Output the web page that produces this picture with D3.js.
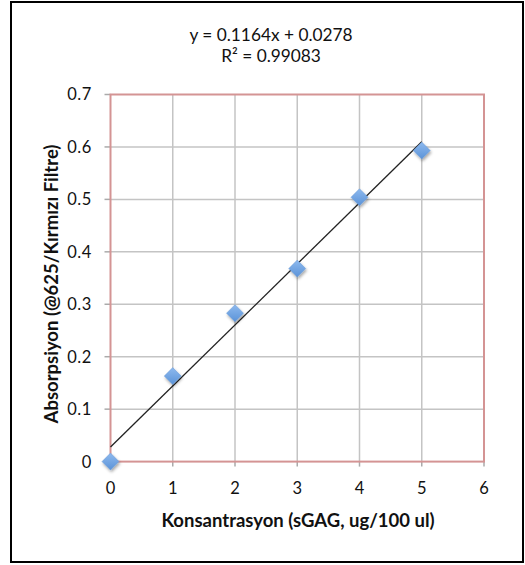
<!DOCTYPE html>
<html><head><meta charset="utf-8">
<script src="https://cdn.jsdelivr.net/npm/d3@7/dist/d3.min.js"></script>
<style>body{margin:0;background:#fff}svg{display:block}</style>
</head><body>
<script>
const xValues = [0, 1, 2, 3, 4, 5];
const yValues = [0, 0.163, 0.283, 0.368, 0.504, 0.593];
const xTicks = [0, 1, 2, 3, 4, 5, 6];
const yTicks = [0, 0.1, 0.2, 0.3, 0.4, 0.5, 0.6, 0.7];
const trendCoef = [0.1164, 0.0278];
const trendRange = [0, 5];
const equationLines = ["y = 0.1164x + 0.0278", "R² = 0.99083"];
const xTitle = "Konsantrasyon (sGAG, ug/100 ul)";
const yTitle = "Absorpsiyon (@625/Kırmızı Filtre)";

const W = 525, H = 565;
const svg = d3.select("body").append("svg").attr("width", W).attr("height", H);
const font = "Lato, 'Open Sans', sans-serif";

// outer frame
svg.append("rect").attr("x", 11).attr("y", 2).attr("width", 512).attr("height", 560)
  .attr("fill", "none").attr("stroke", "#000").attr("stroke-width", 2);

const x = d3.scaleLinear().domain([0, 6]).range([110.5, 484]);
const y = d3.scaleLinear().domain([0, 0.7]).range([461.6, 94.5]);

const g = svg.append("g");
// grid
g.selectAll(".vg").data(xTicks.slice(1, -1)).join("line")
  .attr("x1", d => x(d)).attr("x2", d => x(d)).attr("y1", y(0)).attr("y2", y(0.7))
  .attr("stroke", "#c4c4c4").attr("stroke-width", 1.5);
g.selectAll(".hg").data(yTicks.slice(1, -1)).join("line")
  .attr("x1", x(0)).attr("x2", x(6)).attr("y1", d => y(d)).attr("y2", d => y(d))
  .attr("stroke", "#c4c4c4").attr("stroke-width", 1.5);

// ticks
g.selectAll(".yt").data(yTicks).join("line")
  .attr("x1", x(0) - 6).attr("x2", x(0)).attr("y1", d => y(d)).attr("y2", d => y(d))
  .attr("stroke", "#aaa").attr("stroke-width", 1.5);
g.selectAll(".xt").data(xTicks).join("line")
  .attr("x1", d => x(d)).attr("x2", d => x(d)).attr("y1", y(0)).attr("y2", y(0) + 5)
  .attr("stroke", "#aaa").attr("stroke-width", 1.5);

// plot border
g.append("rect").attr("x", x(0)).attr("y", y(0.7)).attr("width", x(6) - x(0)).attr("height", y(0) - y(0.7))
  .attr("fill", "none").attr("stroke", "#d49494").attr("stroke-width", 2);

// tick labels
g.selectAll(".yl").data(yTicks).join("text")
  .attr("x", 92).attr("y", d => y(d)).attr("dy", "0.36em").attr("text-anchor", "end")
  .attr("font-family", font).attr("font-size", 16.5).attr("letter-spacing", 0.6).attr("fill", "#111")
  .text(d => d === 0 ? "0" : d3.format(".1f")(d));
g.selectAll(".xl").data(xTicks).join("text")
  .attr("x", d => x(d)).attr("y", 494).attr("text-anchor", "middle")
  .attr("font-family", font).attr("font-size", 16.5).attr("fill", "#111")
  .text(d => d);

// axis titles
svg.append("text").attr("x", 298).attr("y", 527).attr("text-anchor", "middle")
  .attr("font-family", font).attr("font-weight", "bold").attr("font-size", 18.5).attr("fill", "#111")
  .text(xTitle);
svg.append("text").attr("transform", "translate(58,284) rotate(-90)").attr("text-anchor", "middle")
  .attr("font-family", font).attr("font-weight", "bold").attr("font-size", 18.5).attr("fill", "#111")
  .text(yTitle);

// equation
svg.selectAll(".eq").data(equationLines).join("text")
  .attr("x", 271).attr("y", (d, i) => 41 + i * 21).attr("text-anchor", "middle")
  .attr("font-family", font).attr("font-size", 17.3).attr("fill", "#111")
  .text(d => d);

// trendline
const line = d3.line().x(d => x(d)).y(d => y(trendCoef[0] * d + trendCoef[1]));
g.append("path").datum(trendRange).attr("d", line)
  .attr("fill", "none").attr("stroke", "#222").attr("stroke-width", 1.3);

// markers
const defs = svg.append("defs");
const grad = defs.append("linearGradient").attr("id", "mg").attr("x1", 0).attr("y1", 0).attr("x2", 0).attr("y2", 1);
grad.append("stop").attr("offset", "0%").attr("stop-color", "#8db9ee");
grad.append("stop").attr("offset", "100%").attr("stop-color", "#5b93d8");
const filt = defs.append("filter").attr("id", "sh").attr("x", "-50%").attr("y", "-50%").attr("width", "200%").attr("height", "200%");
filt.append("feDropShadow").attr("dx", 1).attr("dy", 2).attr("stdDeviation", 1.5).attr("flood-color", "#000").attr("flood-opacity", 0.35);

const pts = xValues.map((v, i) => [v, yValues[i]]);
const r = 8.5;
g.selectAll(".pt").data(pts).join("path")
  .attr("d", d => `M${x(d[0])},${y(d[1]) - r}L${x(d[0]) + r},${y(d[1])}L${x(d[0])},${y(d[1]) + r}L${x(d[0]) - r},${y(d[1])}Z`)
  .attr("fill", "url(#mg)").attr("stroke", "#6a9ad6").attr("stroke-width", 0.5)
  .attr("filter", "url(#sh)");
</script>
</body></html>
